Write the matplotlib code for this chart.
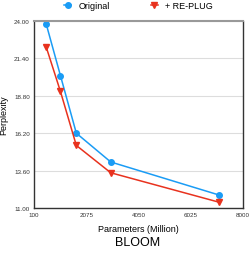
import numpy as np
import matplotlib.pyplot as plt

plt.rcParams['font.family'] = ['Liberation Sans', 'DejaVu Sans']

# BLOOM model sizes (million params) and perplexity
params = [560, 1100, 1700, 3000, 7100]
original = [23.8, 20.2, 16.2, 14.2, 11.9]
replug = [22.2, 19.1, 15.35, 13.45, 11.4]
xticks = [100, 2075, 4050, 6025, 8000]
yticks = [11.00, 13.60, 16.20, 18.80, 21.40, 24.00]

fig = plt.figure(figsize=(2.49, 2.55), dpi=100)
ax = fig.add_axes([34 / 249, 1 - 209 / 255, 209 / 249, 187 / 255])

ax.plot(params, original, color='#1a9cf5', marker='o', markersize=4, lw=1.1, label='Original')
ax.plot(params, replug, color='#e8321e', marker='v', markersize=5, lw=1.1, label='+ RE-PLUG')

ax.set_xlim(100, 8000)
ax.set_ylim(11, 24)
ax.set_xticks(xticks)
ax.set_xticklabels([str(t) for t in xticks])
ax.set_yticks(yticks)
ax.set_yticklabels(['%.2f' % t for t in yticks])
ax.tick_params(length=0, labelsize=4.5, colors='#333333', pad=3)
ax.yaxis.grid(True, color='#dddddd', lw=0.8)
ax.set_axisbelow(True)

for s in ['left', 'bottom', 'right']:
    ax.spines[s].set_color('#333333')
    ax.spines[s].set_linewidth(1.0)
ax.spines['top'].set_color('#999999')
ax.spines['top'].set_linewidth(1.5)

ax.set_xlabel('Parameters (Million)', fontsize=6.5, labelpad=5)
ax.set_ylabel('Perplexity', fontsize=6.5)
ax.yaxis.set_label_coords(-26 / 209, 0.5)
fig.text(138 / 249, 1 - 243 / 255, 'BLOOM', fontsize=9, ha='center', va='center')

ax.legend(loc='center', bbox_to_anchor=(0.5, 1 + 15 / 187), ncol=2, frameon=False,
          fontsize=6.5, columnspacing=4.5, handlelength=0.8, handletextpad=0.8,
          borderaxespad=0)

fig.savefig('out.png', dpi=100)
